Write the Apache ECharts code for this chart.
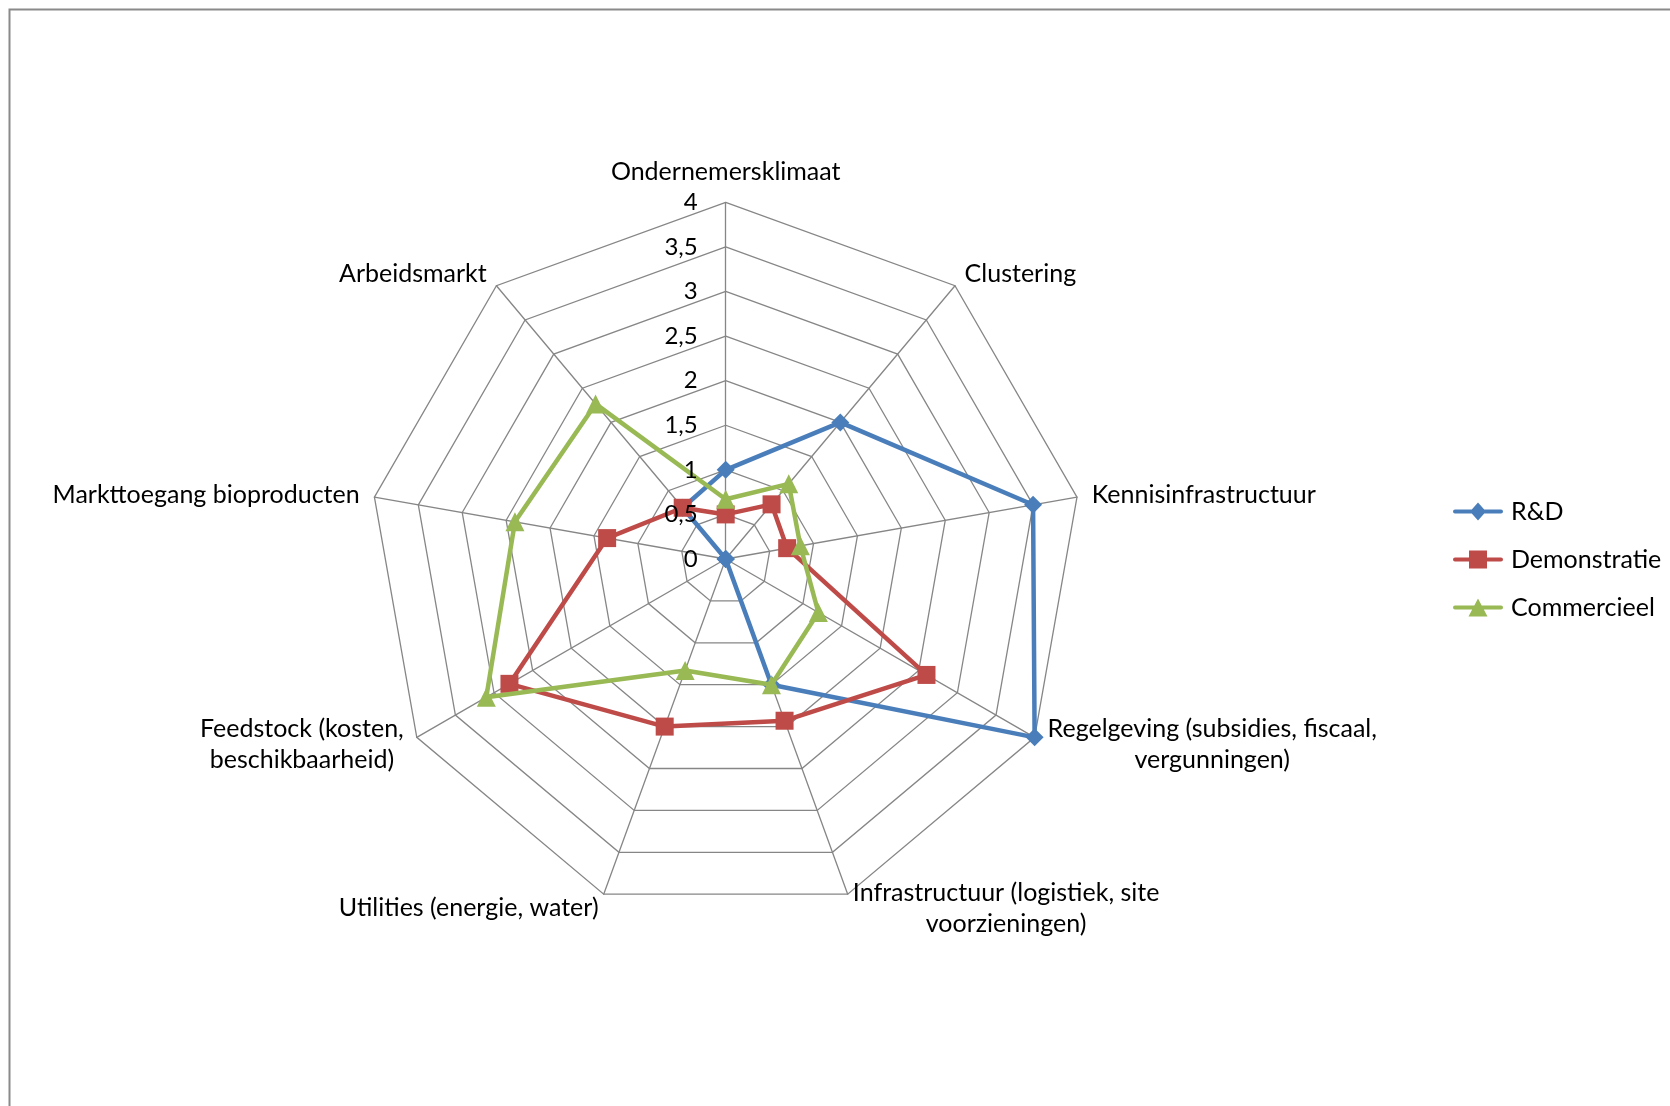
<!DOCTYPE html>
<html>
<head>
<meta charset="utf-8">
<script src="https://cdn.jsdelivr.net/npm/echarts@6/dist/echarts.min.js"></script>
<style>
html, body { margin: 0; padding: 0; background: #fff; }
#chart { width: 1670px; height: 1106px; }
</style>
</head>
<body>
<div id="chart"></div>
<script>
// axes, clockwise from the top (as in the spreadsheet)
var categories = [
	'Ondernemersklimaat',
	'Clustering',
	'Kennisinfrastructuur',
	'Regelgeving (subsidies, fiscaal,\nvergunningen)',
	'Infrastructuur (logistiek, site\nvoorzieningen)',
	'Utilities (energie, water)',
	'Feedstock (kosten,\nbeschikbaarheid)',
	'Markttoegang bioproducten',
	'Arbeidsmarkt'
];
var tickLabels = ['0', '0,5', '1', '1,5', '2', '2,5', '3', '3,5', '4'];

var seriesNames = ['R&D', 'Demonstratie', 'Commercieel'];
var rd = [1, 2, 3.5, 4, 1.5, 0, 0, 0, 0.75];
var demonstratie = [0.5, 0.8, 0.7, 2.6, 1.93, 2, 2.8, 1.35, 0.75];
var commercieel = [0.67, 1.1, 0.85, 1.2, 1.5, 1.33, 3.1, 2.4, 2.27];

var colors = ['#4A7EBB', '#BE4B48', '#98B954'];
var symbols = ['diamond', 'rect', 'triangle'];
var symbolSizes = [18, 18, 19];
var legendIcons = [
	'path://M2,7 L48,7 A2,2 0 0 1 48,11 L2,11 A2,2 0 0 1 2,7 Z M25,0 L33,9 L25,18 L17,9 Z',
	'path://M2,7 L48,7 A2,2 0 0 1 48,11 L2,11 A2,2 0 0 1 2,7 Z M16,0 L34,0 L34,18 L16,18 Z',
	'path://M2,7 L48,7 A2,2 0 0 1 48,11 L2,11 A2,2 0 0 1 2,7 Z M25,0 L34.5,18 L15.5,18 Z'
];

// echarts radar runs counter-clockwise, so walk the axes backwards
var order = [0, 8, 7, 6, 5, 4, 3, 2, 1];
var allValues = [rd, demonstratie, commercieel];

var cx = 725.7, cy = 559, R = 356.7;
var font = 'Lato, "Open Sans", sans-serif';

var chart = echarts.init(document.getElementById('chart'));

var series = [];
for (var s = 0; s < seriesNames.length; s++) {
	series.push({
		type: 'radar',
		name: seriesNames[s],
		symbol: symbols[s],
		symbolSize: symbolSizes[s],
		lineStyle: { color: colors[s], width: 4.5 },
		itemStyle: { color: colors[s] },
		z: 2 + s,
		data: [{
			name: seriesNames[s],
			value: order.map(function (i) { return allValues[s][i]; })
		}]
	});
}

chart.setOption({
	animation: false,
	backgroundColor: '#fff',
	graphic: [{
		type: 'polyline',
		shape: { points: [[9.5, 1106], [9.5, 9.5], [1670, 9.5]] },
		style: { stroke: '#8a8a8a', lineWidth: 2, fill: null },
		silent: true
	}],
	legend: {
		orient: 'vertical',
		left: 1448,
		top: 494,
		itemWidth: 56,
		itemHeight: 18,
		itemGap: 23,
		textStyle: { fontSize: 25, color: '#000', fontFamily: font },
		data: seriesNames.map(function (n, k) {
			return { name: n, icon: legendIcons[k], itemStyle: { color: colors[k] } };
		})
	},
	radar: {
		center: [cx, cy],
		radius: R,
		startAngle: 90,
		shape: 'polygon',
		splitNumber: 8,
		nameGap: 15,
		indicator: order.map(function (i) {
			return { name: categories[i], min: 0, max: 4 };
		}),
		axisName: {
			color: '#000',
			fontSize: 25,
			fontFamily: font,
			formatter: function (name) {
				return name.split('\n').map(function (l) { return '{c|' + l + '}'; }).join('\n');
			},
			rich: {
				c: { align: 'center', fontSize: 25, fontFamily: font, color: '#000', lineHeight: 31 }
			}
		},
		axisLine: { lineStyle: { color: '#868686', width: 1.3 } },
		splitLine: { lineStyle: { color: '#868686', width: 1.3 } },
		splitArea: { show: false },
		axisTick: { show: false },
		axisLabel: { show: false }
	},
	// value labels along the top axis
	grid: { left: cx, top: cy - R, width: 10, height: R },
	xAxis: { type: 'value', show: false },
	yAxis: {
		type: 'value',
		min: 0,
		max: 4,
		interval: 0.5,
		z: 20,
		axisLine: { show: false },
		axisTick: { show: false },
		splitLine: { show: false },
		axisLabel: {
			margin: 28,
			color: '#000',
			fontSize: 24,
			fontFamily: font,
			formatter: function (v, idx) { return tickLabels[idx]; }
		}
	},
	series: series
});
</script>
</body>
</html>
